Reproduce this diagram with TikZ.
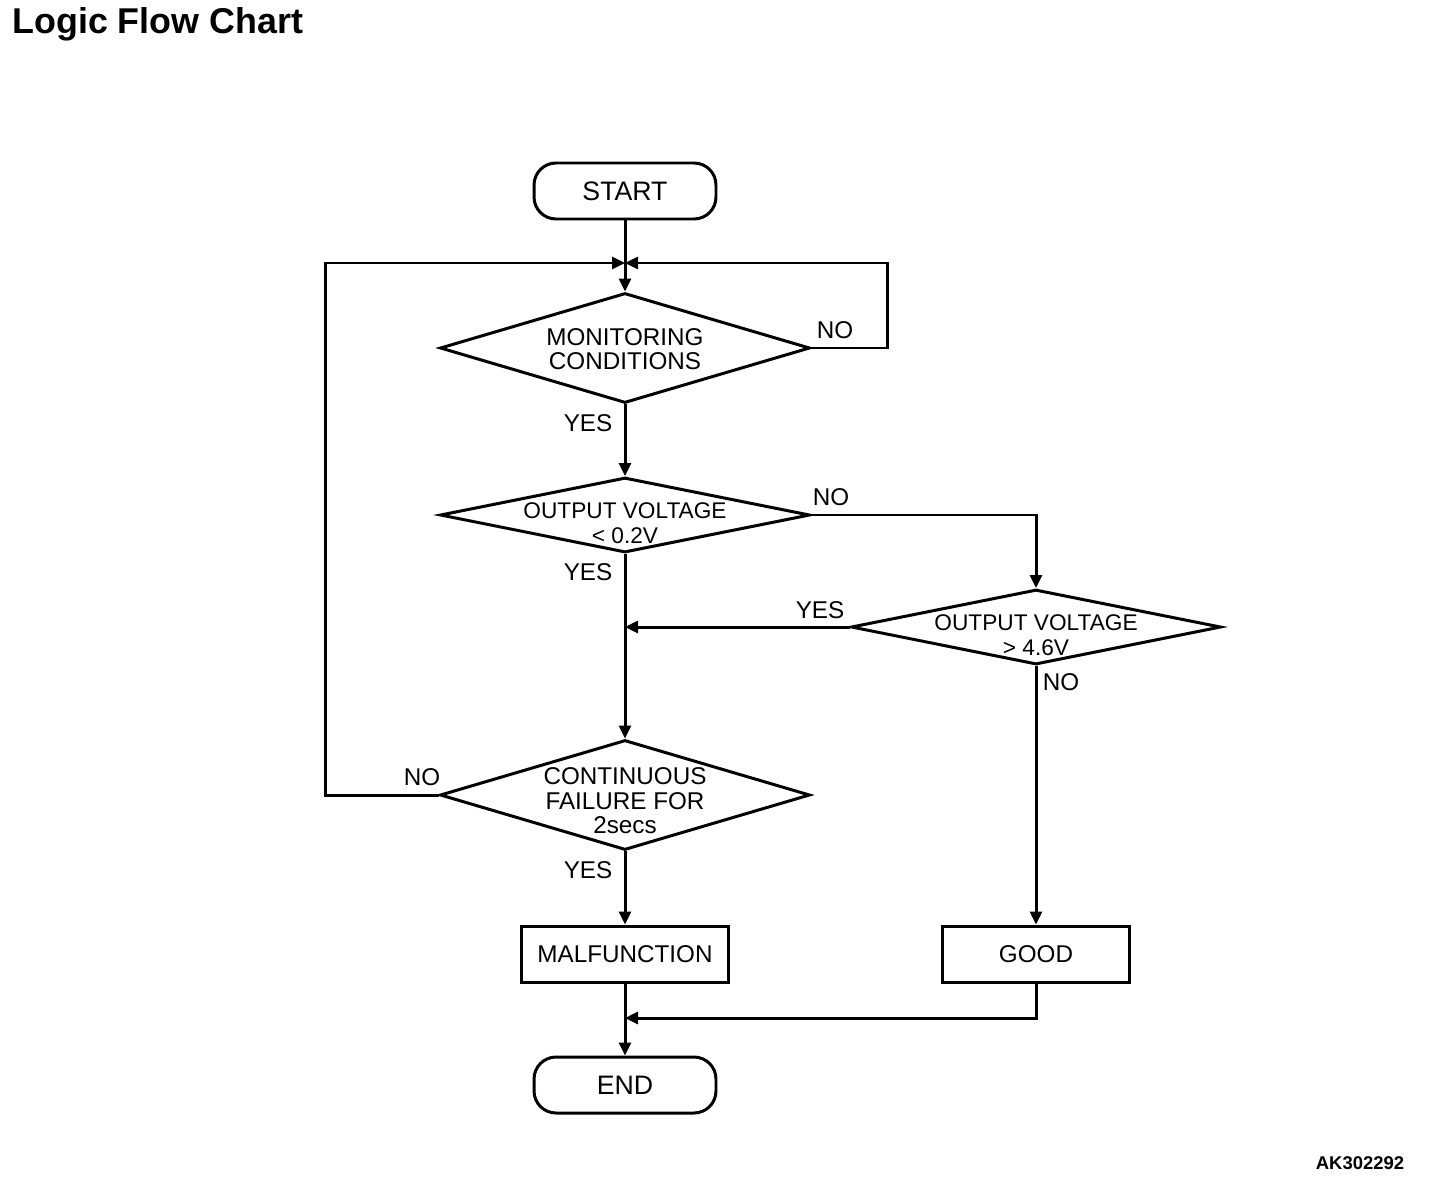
\documentclass[tikz,border=0pt]{standalone}
\usepackage{fontspec}
\setmainfont{Liberation Sans}
\usepackage{tikz}
\usetikzlibrary{shapes}
\usetikzlibrary{arrows.meta}
\usetikzlibrary{positioning}
\tikzstyle{terminal}=[rectangle,draw,line width=1.7pt,rounded corners=0.44cm,
        minimum width=3.64cm,minimum height=1.12cm,
        font=\fontsize{15.2pt}{18pt}\selectfont]
\tikzstyle{process}=[rectangle,draw,line width=1.7pt,minimum height=1.12cm,
        font=\fontsize{13.8pt}{16pt}\selectfont]
\tikzstyle{decision}=[diamond,draw,line width=1.7pt,inner sep=0pt,minimum width=7.4cm]
\tikzstyle{txt}=[align=center,inner sep=0pt,font=\fontsize{13.8pt}{0.49cm}\selectfont]
\tikzstyle{txtv}=[align=center,inner sep=0pt,font=\fontsize{12.9pt}{0.51cm}\selectfont]
\tikzstyle{answer}=[inner sep=0pt,font=\fontsize{13.8pt}{16pt}\selectfont]
\tikzstyle{suite}=[-{Triangle[length=0.26cm,width=0.24cm]},line width=1.7pt]
\begin{document}
\begin{tikzpicture}[x=0.02cm,y=-0.02cm]
\useasboundingbox (0,0) rectangle (1456,1186);
\node[anchor=west,inner sep=0pt,font=\bfseries\fontsize{20.4pt}{24pt}\selectfont] (title) at (12,24) {Logic Flow Chart};
\node[font=\bfseries\fontsize{10.5pt}{12pt}\selectfont,inner sep=0pt] (code) at (1360,1163) {AK302292};
\node[terminal] (start) at (625,191) {START};
\node[decision,minimum height=2.2cm] (mon) at (625,348) {};
\node[txt] (mon-t) at (625,349) {MONITORING\\CONDITIONS};
\node[decision,minimum height=1.5cm] (lowv) at (625,515) {};
\node[txtv] (lowv-t) at (625,523) {OUTPUT VOLTAGE\\< 0.2V};
\node[decision,minimum height=1.5cm] (highv) at (1036,627) {};
\node[txtv] (highv-t) at (1036,635) {OUTPUT VOLTAGE\\> 4.6V};
\node[decision,minimum height=2.2cm] (cont) at (625,795) {};
\node[txt] (cont-t) at (625,801) {CONTINUOUS\\FAILURE FOR\\2secs};
\node[process,minimum width=4.14cm] (mal) at (625,954) {MALFUNCTION};
\node[process,minimum width=3.74cm] (good) at (1036,954) {GOOD};
\node[terminal] (end) at (625,1085) {END};
\coordinate (j1) at (625,263);
\coordinate (j2) at (625,627);
\coordinate (j3) at (625,1018);
% answers
\node[answer] (y1) at (588,423) {YES};
\node[answer] (n1) at (835,330) {NO};
\node[answer] (y2) at (588,572) {YES};
\node[answer] (n2) at (831,497) {NO};
\node[answer] (y3) at (820,610) {YES};
\node[answer] (n3) at (1061,682) {NO};
\node[answer] (n4) at (422,777) {NO};
\node[answer] (y4) at (588,870) {YES};
% connectors
\draw[suite] (start) -- (mon);
\draw[suite] (mon.east) -- ++(76,0) |- (j1);
\draw[suite] (cont.west) -- ++(-113,0) |- (j1);
\draw[suite] (mon) -- (lowv);
\draw[suite] (lowv.east) -| (highv.north);
\draw[suite] (lowv) -- (cont);
\draw[suite] (highv.west) -- (j2);
\draw[suite] (highv) -- (good);
\draw[suite] (cont) -- (mal);
\draw[suite] (mal) -- (end);
\draw[suite] (good) |- (j3);
\end{tikzpicture}
\end{document}
